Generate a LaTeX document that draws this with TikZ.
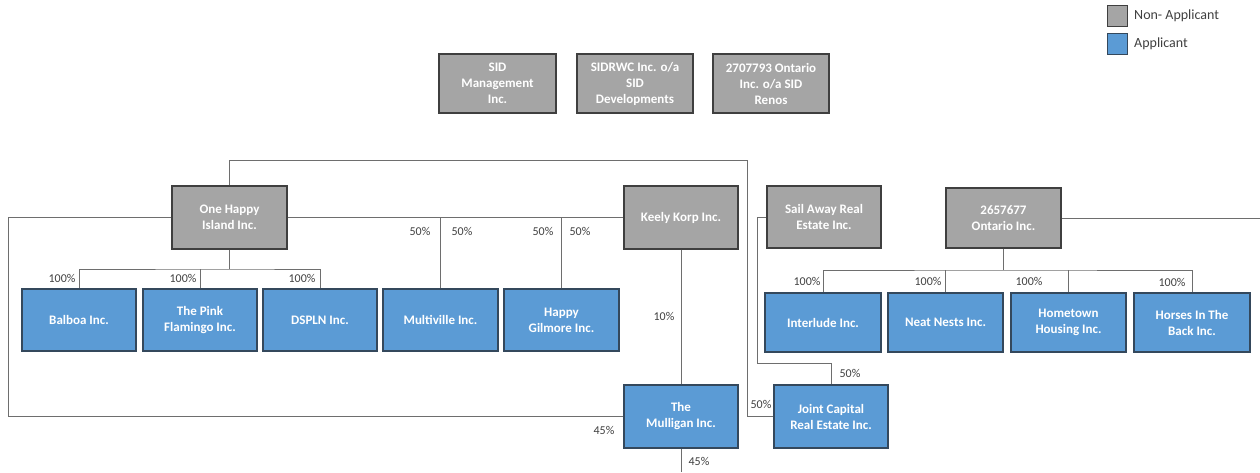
\documentclass[tikz,border=0pt]{standalone}
\usepackage{fontspec}
\setmainfont{Carlito}
\definecolor{gfill}{HTML}{A5A5A5}
\definecolor{gdraw}{HTML}{3F3F3F}
\definecolor{bfill}{HTML}{5B9BD5}
\definecolor{bdraw}{HTML}{34485C}
\definecolor{lgrey}{HTML}{6E6E6E}
\definecolor{tgrey}{HTML}{404040}
\begin{document}
\begin{tikzpicture}[x=1pt,y=-1pt,
  orgbox/.style={line width=1.2pt, text=white, font=\fontsize{13}{16}\selectfont\bfseries, align=center, inner sep=0pt, minimum width=115pt, minimum height=62pt},
  gbox/.style={orgbox, draw=gdraw, fill=gfill},
  bbox/.style={orgbox, draw=bdraw, fill=bfill},
  pct/.style={font=\fontsize{12}{14}\selectfont, text=tgrey, inner sep=0pt},
  conn/.style={draw=lgrey, line width=0.9pt},
  legsq/.style={line width=1pt, minimum width=20pt, minimum height=21pt, inner sep=0pt},
  legtxt/.style={font=\fontsize{14}{16}\selectfont, text=tgrey, inner sep=0pt, anchor=west}]
\useasboundingbox (0,0) rectangle (1260,472);
% legend
\node[legsq, draw=gdraw, fill=gfill] (lg1) at (1117.5,16) {};
\node[legsq, draw=bdraw, fill=bfill] (lg2) at (1117.5,44) {};
\node[legtxt] (lt1) at (1134,16) {Non- Applicant};
\node[legtxt] (lt2) at (1134,44) {Applicant};
% top SID boxes
\node[gbox, minimum width=117pt, minimum height=59pt] (sid1) at (497.5,83.5) {SID\\Management\\Inc.};
\node[gbox, minimum width=116pt, minimum height=59pt] (sid2) at (635,83.5) {SIDRWC Inc. o/a\\SID\\Developments};
\node[gbox, minimum width=116pt, minimum height=59pt] (sid3) at (771,83.5) {2707793 Ontario\\Inc. o/a SID\\Renos};
% second row (grey)
\node[gbox, minimum height=63pt] (ohi) at (229.5,217.5) {One Happy\\Island Inc.};
\node[gbox, minimum width=114pt, minimum height=63pt] (keely) at (681,217.5) {Keely Korp Inc.};
\node[gbox, minimum width=114pt] (sail) at (824,217) {Sail Away Real\\Estate Inc.};
\node[gbox, minimum height=60pt] (ont) at (1003.5,218) {2657677\\Ontario Inc.};
% blue row left
\node[bbox, minimum width=114pt] (balboa) at (79,320) {Balboa Inc.};
\node[bbox, minimum width=114pt] (pink) at (200,320) {The Pink\\Flamingo Inc.};
\node[bbox, minimum width=114pt] (dspln) at (320,320) {DSPLN Inc.};
\node[bbox] (multi) at (440.5,320) {Multiville Inc.};
\node[bbox] (gilmore) at (561.5,320) {Happy\\Gilmore Inc.};
% blue row right
\node[bbox, minimum width=116pt, minimum height=59pt] (interlude) at (823,322.5) {Interlude Inc.};
\node[bbox, minimum height=59pt] (neat) at (945.5,322.5) {Neat Nests Inc.};
\node[bbox, minimum height=59pt] (hometown) at (1068.5,322.5) {Hometown\\Housing Inc.};
\node[bbox, minimum width=116pt, minimum height=59pt] (horses) at (1192,322.5) {Horses In The\\Back Inc.};
% bottom
\node[bbox, minimum width=114pt, minimum height=63pt] (mulligan) at (681,416.5) {The\\Mulligan Inc.};
\node[bbox, minimum width=114pt, minimum height=63pt] (joint) at (831,416.5) {Joint Capital\\Real Estate Inc.};
% helper coordinates
\coordinate (topL) at (229.5,160);
\coordinate (topR) at (747,160);
\coordinate (farL) at (8,217.5);
\coordinate (b1) at (229.5,269);
\coordinate (b2) at (1003.5,270);
\coordinate (sailL) at (757,217);
\coordinate (sailB) at (757,363);
\coordinate (mulEnd) at (681,472);
\coordinate (ontEnd) at (1260,218);
% connectors
\draw[conn] (ohi.north) -- (topL) -- (topR) |- (joint.west);
\draw[conn] (ohi.west) -- (farL) |- (mulligan.west);
\draw[conn] (ohi.south) -- (b1);
\draw[conn] (balboa.north) |- (b1) -| (dspln.north);
\draw[conn] (pink.north) -- (pink.north |- b1);
\draw[conn] (ohi.east) -- (keely.west);
\draw[conn] (multi.north) -- (multi.north |- ohi.east);
\draw[conn] (gilmore.north) -- (gilmore.north |- ohi.east);
\draw[conn] (keely.south) -- (mulligan.north);
\draw[conn] (mulligan.south) -- (mulEnd);
\draw[conn] (sail.west) -- (sailL) -- (sailB) -| (joint.north);
\draw[conn] (ont.south) -- (b2);
\draw[conn] (interlude.north) |- (b2) -| (horses.north);
\draw[conn] (neat.north) -- (neat.north |- b2);
\draw[conn] (hometown.north) -- (hometown.north |- b2);
\draw[conn] (ont.east) -- (ontEnd);
% percentage labels
\node[pct] (p1) at (62,278) {100\%};
\node[pct] (p2) at (183,278) {100\%};
\node[pct] (p3) at (302,278) {100\%};
\node[pct] (p4) at (420,231) {50\%};
\node[pct] (p5) at (462,231) {50\%};
\node[pct] (p6) at (543,231) {50\%};
\node[pct] (p7) at (580,231) {50\%};
\node[pct] (p8) at (664,316) {10\%};
\node[pct] (p9) at (604,430) {45\%};
\node[pct] (p10) at (699,461) {45\%};
\node[pct] (p11) at (850,373) {50\%};
\node[pct] (p12) at (761,404) {50\%};
\node[pct] (p13) at (807,281) {100\%};
\node[pct] (p14) at (928,281) {100\%};
\node[pct] (p15) at (1029,281) {100\%};
\node[pct] (p16) at (1172,282) {100\%};
\end{tikzpicture}
\end{document}
